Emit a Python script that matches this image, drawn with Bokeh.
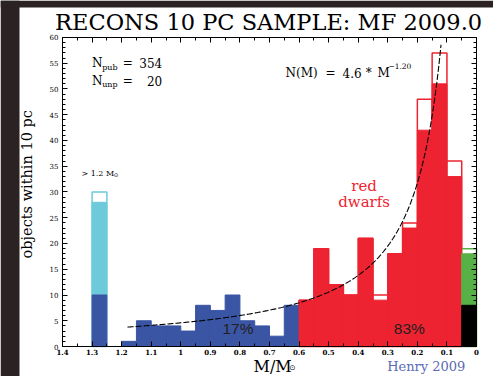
import numpy as np
from math import pi
from bokeh.plotting import figure
from bokeh.models import (Range1d, LinearAxis, FixedTicker, SingleIntervalTicker,
                          Label, BoxAnnotation, CustomJSTickFormatter)
from bokeh.embed import file_html
from bokeh.resources import INLINE

# ---------------- data (0.05 Msun bins, given by their upper mass edge) ----------------
BIN_W = 0.05
blue_hi = [1.30, 1.20, 1.15, 1.10, 1.05, 1.00, 0.95, 0.90, 0.85, 0.80, 0.75, 0.70, 0.65]
blue_n = [10, 1, 5, 4, 4, 3, 8, 7, 10, 5, 4, 2, 8]

cyan_hi = [1.30]          # > 1.2 Msun
cyan_bottom = [10]
cyan_n = [28]
cyan_total = [30]

red_hi = [0.60, 0.55, 0.50, 0.45, 0.40, 0.35, 0.30, 0.25, 0.20, 0.15, 0.10]
red_n = [9, 19, 12, 10, 21, 9, 18, 23, 42, 51, 33]
red_total = [9, 19, 12, 10, 21, 10, 18, 24, 48, 57, 36]

last_hi = [0.05]
black_n = [8]
green_n = [18]
green_total = [19]

fit_coef = 4.6
fit_exp = -1.20
fit_m_start, fit_m_end = 1.18, 0.12

x_ticks = [1.4, 1.3, 1.2, 1.1, 1.0, 0.9, 0.8, 0.7, 0.6, 0.5, 0.4, 0.3, 0.2, 0.1, 0.0]
x_tick_labels = ["1.4", "1.3", "1.2", "1.1", "1", "0.9", "0.8", "0.7", "0.6",
                 "0.5", "0.4", "0.3", "0.2", "0.1", "0"]
x_minor = [1.35, 1.25, 1.15, 1.05, 0.95, 0.85, 0.75, 0.65, 0.55, 0.45, 0.35,
           0.25, 0.15, 0.05]

# axis extents of the histogram box
M_MAX, M_MIN = 1.4, 0.0
N_MIN, N_MAX = 0, 60

BLUE = "#3a55a3"
CYAN = "#6ccadb"
RED = "#ed2331"
GREEN = "#58b147"
DARK = "#2b2323"
SERIF = "DejaVu Serif"

# The frame covers the whole canvas so that texts around the box are not clipped;
# the box itself is drawn by axes at fixed locations.
X_LO, X_HI = 1.6097, -0.0575
Y_LO, Y_HI = -5.825, 67.184
p = figure(width=493, height=376,
           x_range=Range1d(X_LO, X_HI), y_range=Range1d(Y_LO, Y_HI),
           output_backend="svg", toolbar_location=None,
           x_axis_location=None, y_axis_location=None,
           min_border_left=0, min_border_right=0, min_border_top=0,
           min_border_bottom=0)
p.xgrid.grid_line_color = None
p.ygrid.grid_line_color = None
p.outline_line_color = None
p.background_fill_color = "white"
p.border_fill_color = "white"

# dark slide strips at the left and top edges
p.add_layout(BoxAnnotation(left=X_LO, right=1.5454, fill_color=DARK,
                           fill_alpha=1, line_color=None, level="underlay"))
p.add_layout(BoxAnnotation(bottom=65.83, top=Y_HI, fill_color=DARK,
                           fill_alpha=1, line_color=None, level="underlay"))

xt = FixedTicker(ticks=x_ticks, minor_ticks=x_minor)
yt = SingleIntervalTicker(interval=5, num_minor_ticks=5)
blank = CustomJSTickFormatter(code="return ''")


def style_axis(ax):
    ax.axis_line_color = "black"
    ax.axis_line_width = 1
    ax.major_tick_in = 5
    ax.major_tick_out = 0
    ax.minor_tick_in = 3
    ax.minor_tick_out = 0
    ax.major_tick_line_color = "black"
    ax.minor_tick_line_color = "black"
    ax.major_label_text_font = SERIF
    ax.major_label_text_color = "black"
    ax.major_label_text_font_size = "7px"


bottom = LinearAxis(ticker=xt, fixed_location=N_MIN, bounds=(M_MIN, M_MAX),
                    major_label_overrides=dict(zip(x_ticks, x_tick_labels)))
style_axis(bottom)
bottom.major_label_text_font_style = "bold"
bottom.major_label_standoff = 2
p.add_layout(bottom, "below")

top = LinearAxis(ticker=xt, fixed_location=N_MAX, bounds=(M_MIN, M_MAX),
                 formatter=blank)
style_axis(top)
p.add_layout(top, "above")

left = LinearAxis(ticker=yt, fixed_location=M_MAX, bounds=(N_MIN, N_MAX))
style_axis(left)
left.major_label_standoff = 4
p.add_layout(left, "left")

right = LinearAxis(ticker=yt, fixed_location=M_MIN, bounds=(N_MIN, N_MAX),
                   formatter=blank)
style_axis(right)
p.add_layout(right, "right")


def lows(hi):
    return [h - BIN_W for h in hi]


# outline (total incl. unpublished) boxes
p.quad(left=cyan_hi, right=lows(cyan_hi), bottom=0, top=cyan_total,
       fill_color="white", line_color=CYAN, line_width=1.5)
p.quad(left=red_hi, right=lows(red_hi), bottom=0, top=red_total,
       fill_color="white", line_color=RED, line_width=1.5)
p.quad(left=last_hi, right=lows(last_hi), bottom=0, top=green_total,
       fill_color="white", line_color=GREEN, line_width=1.5)

# filled (published) bars
p.quad(left=cyan_hi, right=lows(cyan_hi), bottom=cyan_bottom, top=cyan_n,
       fill_color=CYAN, line_color=CYAN, line_width=1)
p.quad(left=blue_hi, right=lows(blue_hi), bottom=0, top=blue_n,
       fill_color=BLUE, line_color=BLUE, line_width=1)
p.quad(left=red_hi, right=lows(red_hi), bottom=0, top=red_n,
       fill_color=RED, line_color=RED, line_width=1)
p.quad(left=last_hi, right=lows(last_hi), bottom=black_n, top=green_n,
       fill_color=GREEN, line_color=GREEN, line_width=1)
p.quad(left=last_hi, right=lows(last_hi), bottom=0, top=black_n,
       fill_color="black", line_color="black", line_width=1)

# power-law fit N(M) = 4.6 * M^-1.20
m_fit = np.linspace(fit_m_start, fit_m_end, 300)
n_fit = fit_coef * m_fit ** fit_exp
p.line(m_fit, n_fit, line_color="black", line_width=1.1, line_dash="6 2")

TEXT_DY = 1.07   # raise horizontal labels so the glyph baseline sits where intended


def lab(x, y, text, size, color="black", font=SERIF, align="left",
        baseline="alphabetic", angle=0.0, style="normal", dy=TEXT_DY):
    p.add_layout(Label(x=x, y=y + dy, text=text, text_font_size=size,
                       text_color=color, text_font=font, text_align=align,
                       text_baseline=baseline, angle=angle,
                       text_font_style=style))


# title and axis titles
lab(0.703, 62.0, "RECONS 10 PC SAMPLE: MF 2009.0", "22.5px", align="center")
lab(1.520, 31.5, "objects within 10 pc", "14.5px", align="center",
    baseline="middle", angle=pi / 2, dy=0)
lab(0.754, -5.05, "M/M", "16px")
lab(0.623, -5.24, "\u2299", "7.5px", font="DejaVu Sans", align="center")
lab(0.302, -5.05, "Henry 2009", "13px", color="#5a6cb4")

# counts
lab(1.300, 53.9, "N", "12px")
lab(1.266, 53.2, "pub", "8px")
lab(1.179, 53.9, "=", "12px", align="center")
lab(1.063, 53.9, "354", "12px", align="right")
lab(1.300, 50.5, "N", "12px")
lab(1.266, 49.8, "unp", "8px")
lab(1.179, 50.5, "=", "12px", align="center")
lab(1.063, 50.5, "20", "12px", align="right")

# fit formula
lab(0.646, 52.0, "N(M)", "12px")
lab(0.494, 52.0, "=", "12px", align="center")
lab(0.453, 52.0, "4.6", "12px")
lab(0.364, 52.0, "*", "12px", align="center")
lab(0.335, 52.0, "M", "12px")
lab(0.298, 53.3, "\u22121.20", "7.5px")

# other annotations
lab(1.336, 32.6, "> 1.2 M", "8px")
lab(1.227, 32.2, "\u2299", "5.5px", font="DejaVu Sans")
lab(0.380, 30.0, "red", "15px", color=RED, align="center")
lab(0.380, 26.9, "dwarfs", "15px", color=RED, align="center")
lab(0.8065, 2.35, "17%", "15.5px", color="#231f20", font="Liberation Sans",
    align="center")
lab(0.227, 2.35, "83%", "15.5px", color="#231f20", font="Liberation Sans",
    align="center")

open("out.html", "w").write(file_html(p, INLINE))
